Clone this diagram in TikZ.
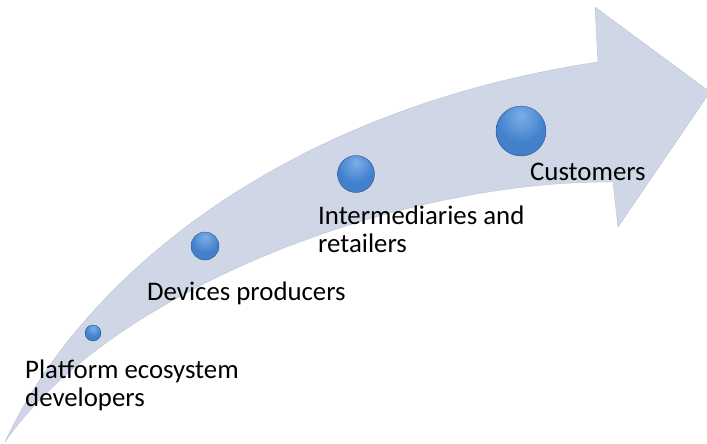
\documentclass[tikz,border=0pt]{standalone}
\usepackage{fontspec}
\setmainfont{Carlito}
\usepackage{tikz}

\definecolor{arrowfill}{RGB}{207,214,229}
\definecolor{arrowedge}{RGB}{188,195,211}
\definecolor{ballhi}{RGB}{125,175,232}
\definecolor{ballmid}{RGB}{66,128,204}
\definecolor{balldark}{RGB}{38,88,158}

% glossy blue ball, lit from the top
\pgfdeclareradialshading{blueball}{\pgfpoint{0bp}{16bp}}{%
  color(0bp)=(ballhi); color(24bp)=(ballmid); color(46bp)=(ballmid);
  color(62bp)=(balldark); color(100bp)=(balldark)}

\begin{document}
\begin{tikzpicture}[x=1pt,y=-1pt]
          \tikzset{Ball/.style = {circle, inner sep = 0pt, shading = blueball,
                   draw = balldark!80!black, line width = 0.3pt}}
          \tikzset{Label/.style = {anchor = base west, inner sep = 0pt, align = left,
                   font = \fontsize{26.8}{28}\selectfont}}

          \useasboundingbox (0,0) rectangle (707,444);
          \clip (0,0) rectangle (707,444);

          % curved arrow
          \fill[arrowfill, draw = arrowedge, line width = 0.4pt]
            (5,442) .. controls (80,280) and (280,110) .. (598,62)
            -- (595,7) -- (710,92) -- (618,227) -- (613,182)
            .. controls (400,180) and (110,290) .. cycle;

          \node[Ball, minimum size = 16pt] (B1) at (93,333) {};
          \node[Ball, minimum size = 28pt] (B2) at (205,246) {};
          \node[Ball, minimum size = 37pt] (B3) at (356,174) {};
          \node[Ball, minimum size = 50pt] (B4) at (521,131) {};

          % base anchor sits on the last line
          \node[Label] (L1) at (25,406) {Platform ecosystem\\developers};
          \node[Label] (L2) at (147,300) {Devices producers};
          \node[Label] (L3) at (318,252) {Intermediaries and\\retailers};
          \node[Label] (L4) at (530,180) {Customers};
        \end{tikzpicture}
\end{document}
